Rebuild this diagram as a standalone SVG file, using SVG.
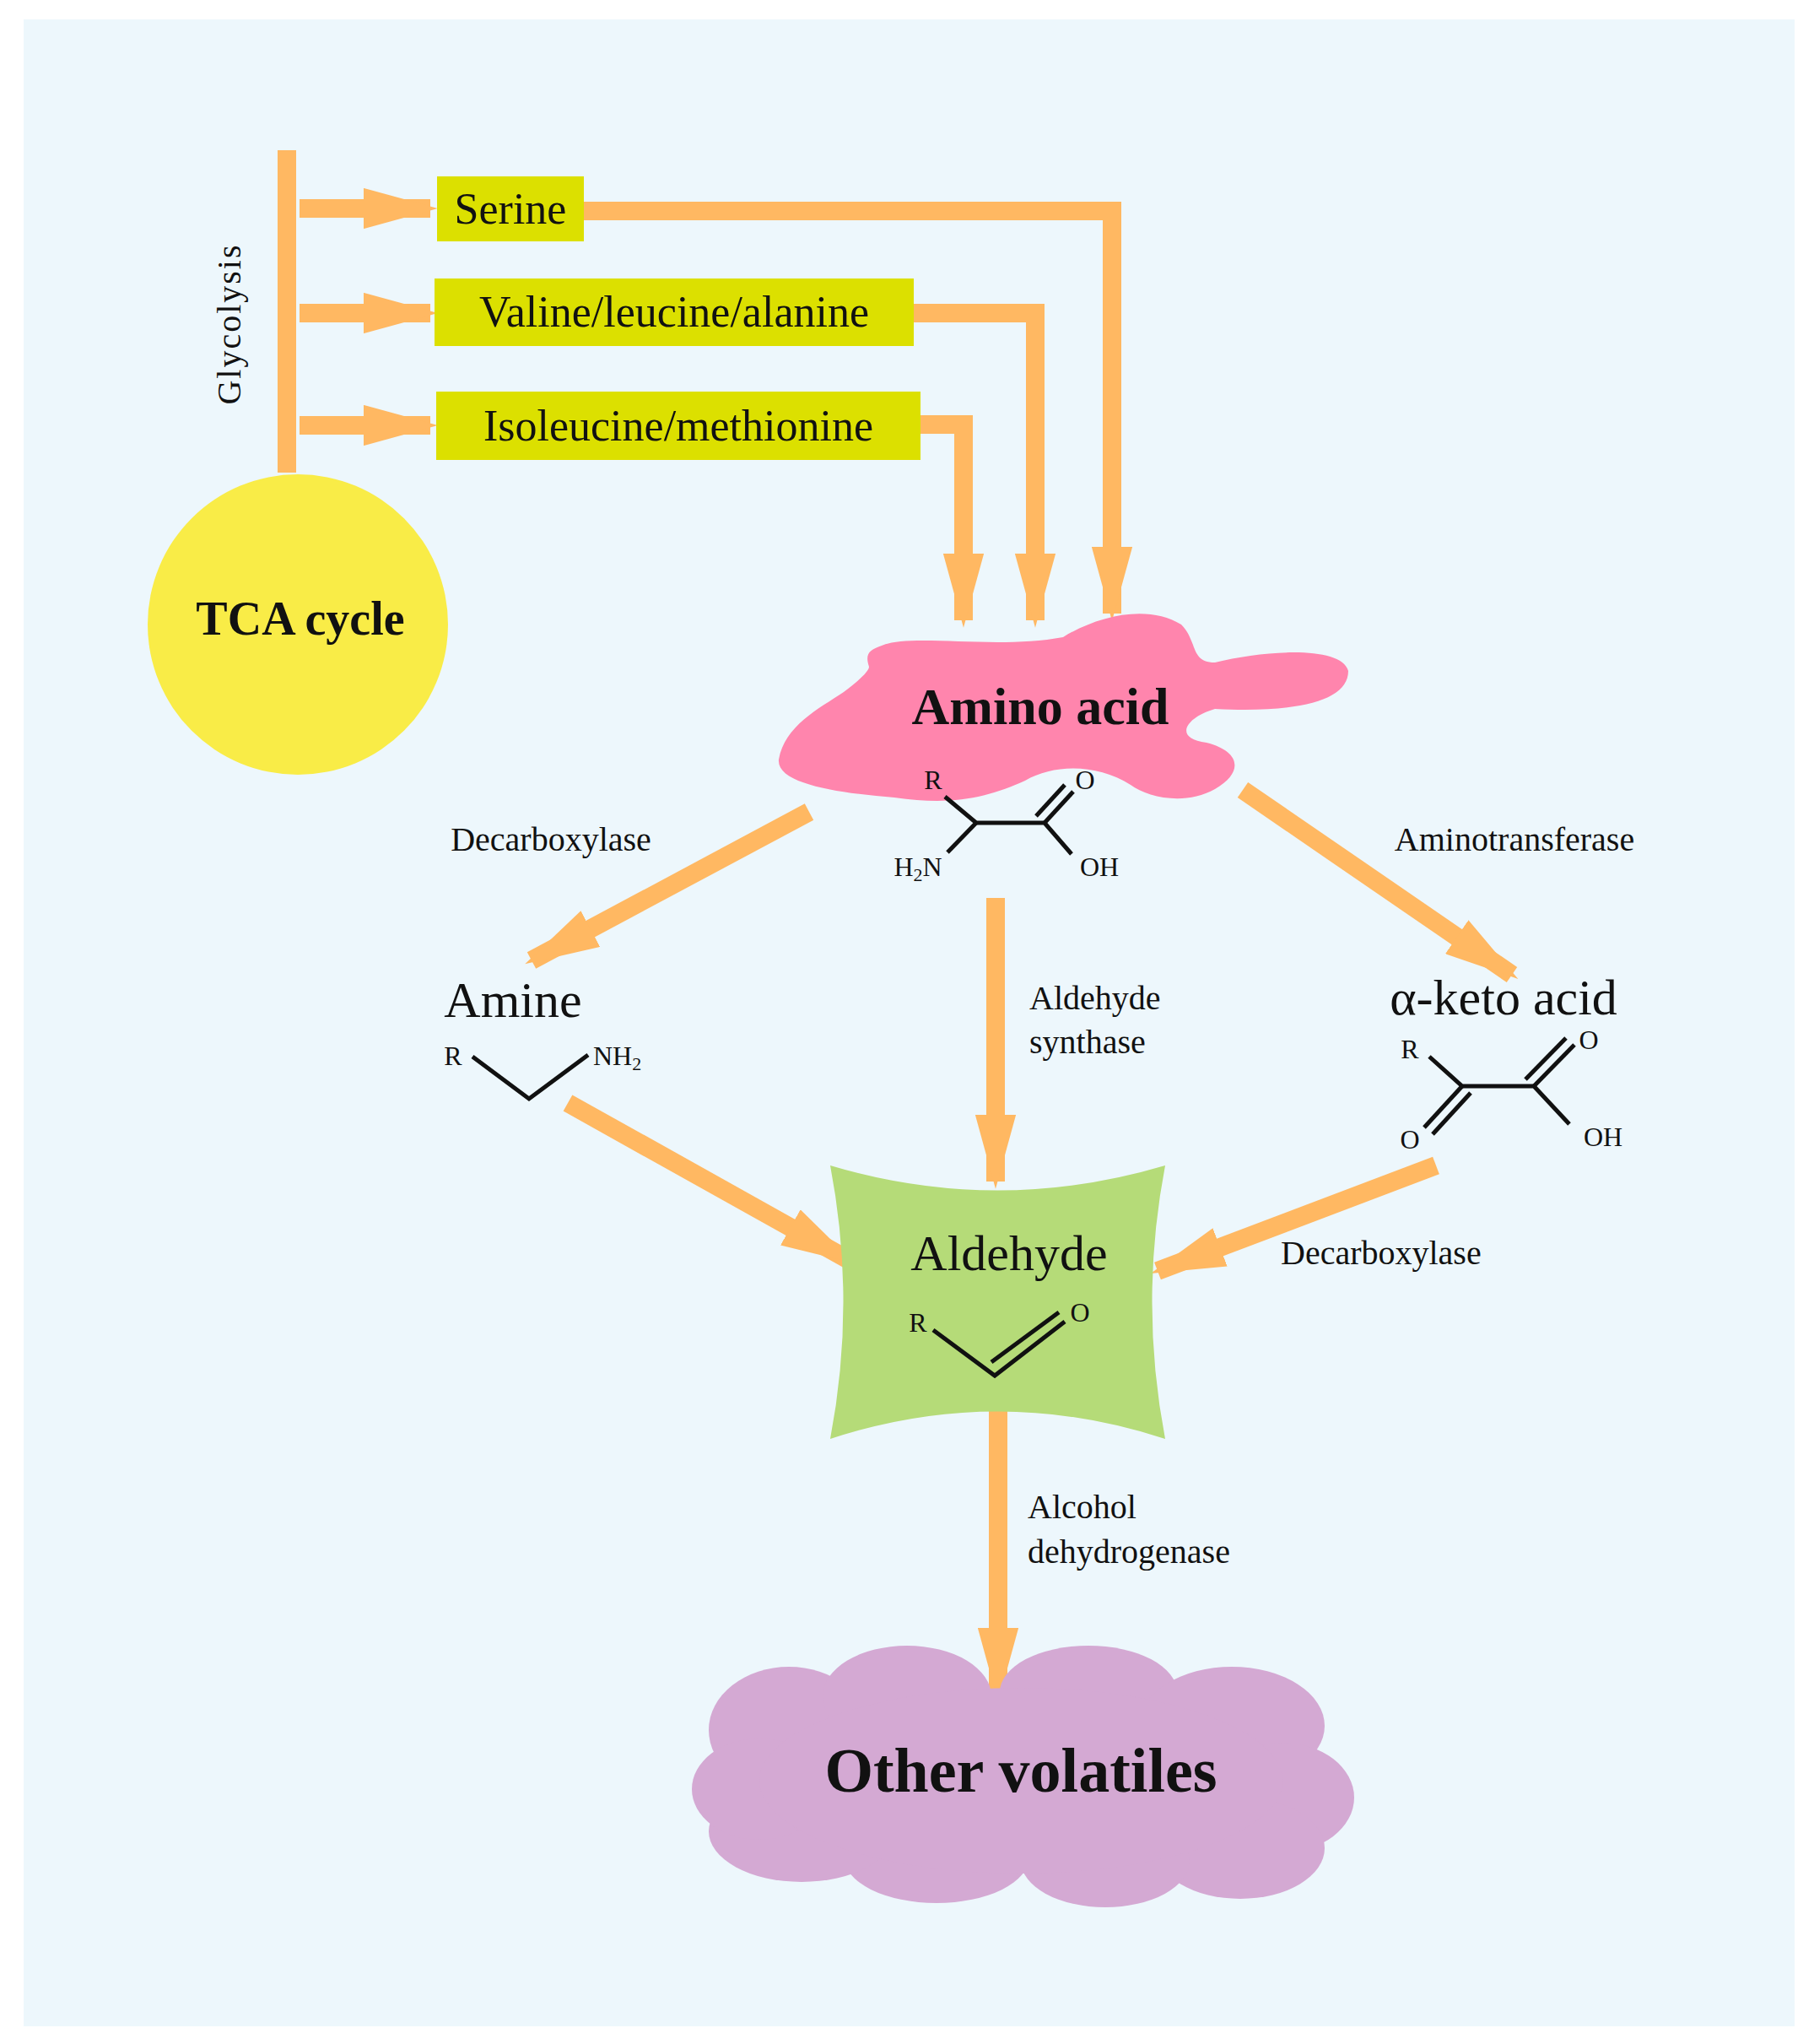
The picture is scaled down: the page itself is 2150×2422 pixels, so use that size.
<svg xmlns="http://www.w3.org/2000/svg" width="2150" height="2422" viewBox="0 0 2150 2422">
<style>
.t{font-family:"Liberation Serif",serif;fill:#111}
.b{font-weight:bold}
.ar{fill:none;stroke:#ffb862;stroke-width:22}
.hd{fill:#ffb862}
.bd{fill:none;stroke:#111;stroke-width:5}
.box{fill:#dce000}
</style>
<defs>
<marker id="ah" markerWidth="4" markerHeight="2.2" refX="3.6" refY="1.1" orient="auto" markerUnits="strokeWidth"><path d="M0,0 L4,1.1 L0,2.2 Z" class="hd"/></marker>
</defs>
<rect width="2150" height="2422" fill="#fff"/>
<rect x="28" y="23" width="2099" height="2378" fill="#edf7fc"/>
<g id="connectors">
<line x1="340" y1="178" x2="340" y2="560" class="ar" stroke-width="31"/>
<line x1="355" y1="247" x2="510" y2="247" class="ar" marker-end="url(#ah)"/>
<line x1="355" y1="371" x2="510" y2="371" class="ar" marker-end="url(#ah)"/>
<line x1="355" y1="504" x2="510" y2="504" class="ar" marker-end="url(#ah)"/>
<polyline points="692,250 1318,250 1318,727" class="ar" marker-end="url(#ah)"/>
<polyline points="1083,371 1227,371 1227,735" class="ar" marker-end="url(#ah)"/>
<polyline points="1091,503 1142,503 1142,735" class="ar" marker-end="url(#ah)"/>
<line x1="959" y1="962" x2="630" y2="1138" class="ar" marker-end="url(#ah)"/>
<line x1="1473" y1="936" x2="1792" y2="1155" class="ar" marker-end="url(#ah)"/>
<line x1="1180" y1="1064" x2="1180" y2="1400" class="ar" marker-end="url(#ah)"/>
<line x1="673" y1="1307" x2="1006" y2="1493" class="ar" marker-end="url(#ah)"/>
<line x1="1702" y1="1381" x2="1372" y2="1506" class="ar" marker-end="url(#ah)"/>
<line x1="1183" y1="1671" x2="1183" y2="2008" class="ar" marker-end="url(#ah)"/>
</g>
<g id="labels">
<text class="t" x="271" y="384" font-size="40" text-anchor="middle" transform="rotate(-90 271 384)" dy="14" letter-spacing="2">Glycolysis</text>
<text class="t" x="653" y="1008" font-size="40" text-anchor="middle">Decarboxylase</text>
<text class="t" x="1795" y="1008" font-size="40" text-anchor="middle">Aminotransferase</text>
<text class="t" x="1220" y="1196" font-size="40">Aldehyde</text>
<text class="t" x="1220" y="1248" font-size="40">synthase</text>
<text class="t" x="1518" y="1498" font-size="40">Decarboxylase</text>
<text class="t" x="1218" y="1799" font-size="40">Alcohol</text>
<text class="t" x="1218" y="1852" font-size="40">dehydrogenase</text>
</g>
<g id="serine"><rect x="518" y="209" width="174" height="77" class="box"/><text class="t" x="605" y="265" font-size="52" text-anchor="middle">Serine</text></g>
<g id="valine"><rect x="515" y="330" width="568" height="80" class="box"/><text class="t" x="799" y="387" font-size="52" text-anchor="middle">Valine/leucine/alanine</text></g>
<g id="isoleucine"><rect x="517" y="464" width="574" height="81" class="box"/><text class="t" x="804" y="522" font-size="52" text-anchor="middle">Isoleucine/methionine</text></g>
<g id="tca"><circle cx="353" cy="740" r="178" fill="#f9ec47"/><text class="t b" x="356" y="752" font-size="56" text-anchor="middle">TCA cycle</text></g>
<g id="amino-acid">
<path d="M1045,765 C1080,750 1180,770 1260,755 C1300,730 1360,715 1400,740 C1420,760 1410,785 1440,785 C1500,770 1590,765 1598,795 C1598,830 1540,845 1440,840 C1405,850 1390,875 1430,880 C1470,890 1475,915 1440,935 C1405,955 1360,945 1340,930 C1300,905 1250,905 1215,925 C1170,945 1130,955 1060,945 C1000,940 920,930 923,900 C930,860 970,840 1000,820 C1020,805 1030,795 1030,790 C1025,775 1030,770 1045,765 Z" fill="#ff85ad"/>
<text class="t b" x="1233" y="858" font-size="62" text-anchor="middle">Amino acid</text>
<text class="t" x="1106" y="935" font-size="32" text-anchor="middle">R</text>
<text class="t" x="1286" y="935" font-size="32" text-anchor="middle">O</text>
<text class="t" x="1088" y="1038" font-size="32" text-anchor="middle">H<tspan font-size="22" dy="6">2</tspan><tspan dy="-6">N</tspan></text>
<text class="t" x="1303" y="1038" font-size="32" text-anchor="middle">OH</text>
<polyline points="1120,944 1157,975 1238,975 1270,1012" class="bd"/>
<polyline points="1123,1010 1157,975" class="bd"/>
<line x1="1238" y1="975" x2="1272" y2="938" class="bd"/>
<line x1="1228" y1="967" x2="1262" y2="930" class="bd"/>
</g>
<g id="amine">
<text class="t" x="608" y="1205" font-size="60" text-anchor="middle">Amine</text>
<text class="t" x="537" y="1262" font-size="32" text-anchor="middle">R</text>
<text class="t" x="703" y="1262" font-size="32">NH<tspan font-size="22" dy="6">2</tspan></text>
<polyline points="560,1252 627,1302 697,1250" class="bd" stroke-width="6"/>
</g>
<g id="keto-acid">
<text class="t" x="1782" y="1202" font-size="60" text-anchor="middle">α-keto acid</text>
<text class="t" x="1671" y="1254" font-size="32" text-anchor="middle">R</text>
<text class="t" x="1883" y="1243" font-size="32" text-anchor="middle">O</text>
<text class="t" x="1671" y="1361" font-size="32" text-anchor="middle">O</text>
<text class="t" x="1900" y="1358" font-size="32" text-anchor="middle">OH</text>
<polyline points="1694,1252 1733,1287 1818,1287 1860,1332" class="bd"/>
<line x1="1818" y1="1287" x2="1866" y2="1238" class="bd"/>
<line x1="1808" y1="1279" x2="1856" y2="1230" class="bd"/>
<line x1="1733" y1="1287" x2="1688" y2="1336" class="bd"/>
<line x1="1743" y1="1295" x2="1698" y2="1344" class="bd"/>
</g>
<g id="aldehyde">
<path d="M984,1381 Q1182,1440 1381,1381 Q1350,1543 1381,1705 Q1182,1640 984,1705 Q1015,1543 984,1381 Z" fill="#b5db78"/>
<text class="t" x="1196" y="1505" font-size="60" text-anchor="middle">Aldehyde</text>
<text class="t" x="1088" y="1578" font-size="32" text-anchor="middle">R</text>
<text class="t" x="1280" y="1566" font-size="32" text-anchor="middle">O</text>
<polyline points="1106,1576 1179,1630 1262,1566" class="bd" stroke-width="6"/>
<line x1="1175" y1="1614" x2="1255" y2="1555" class="bd"/>
</g>
<g id="other-volatiles" fill="#d4a9d3">
<ellipse cx="935" cy="2050" rx="95" ry="75"/>
<ellipse cx="1075" cy="2010" rx="100" ry="60"/>
<ellipse cx="1290" cy="2005" rx="105" ry="55"/>
<ellipse cx="1460" cy="2045" rx="110" ry="70"/>
<ellipse cx="1520" cy="2130" rx="85" ry="65"/>
<ellipse cx="1470" cy="2190" rx="100" ry="60"/>
<ellipse cx="1310" cy="2205" rx="100" ry="55"/>
<ellipse cx="1110" cy="2200" rx="110" ry="55"/>
<ellipse cx="950" cy="2170" rx="110" ry="60"/>
<ellipse cx="900" cy="2120" rx="80" ry="60"/>
<ellipse cx="1210" cy="2110" rx="310" ry="110"/>
<text class="t b" x="1210" y="2123" font-size="74" text-anchor="middle" fill="#111">Other volatiles</text>
</g>
</svg>
